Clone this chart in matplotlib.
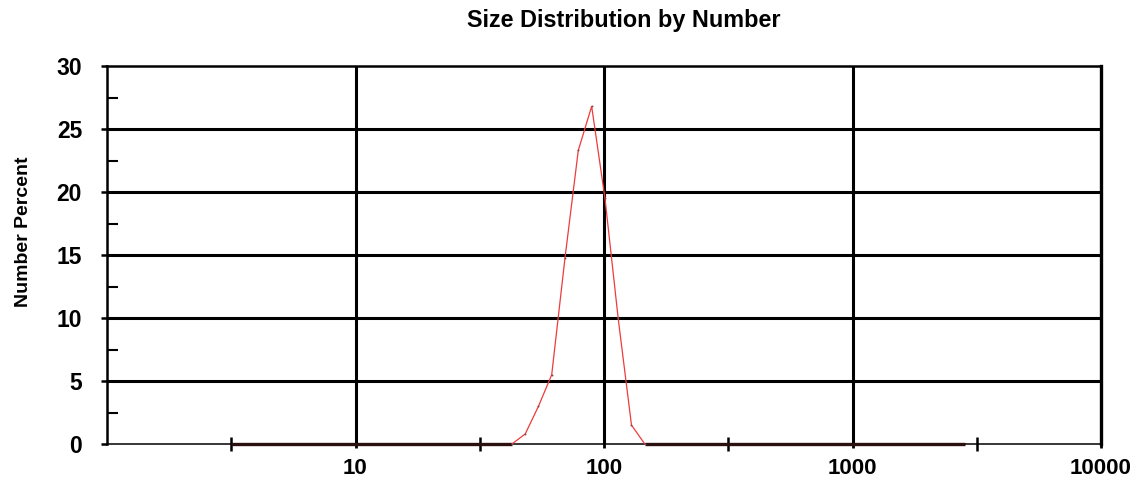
import numpy as np
import matplotlib
matplotlib.use("Agg")
import matplotlib.pyplot as plt
from matplotlib.ticker import FixedLocator, NullFormatter

# values
sizes = [3.16, 42.6, 48.2, 54.5, 61.6, 69.7, 78.8, 89.2, 100.9, 114, 129, 146, 165, 2830]
number_pct = [0, 0, 0.8, 3.0, 5.5, 14.8, 23.3, 26.8, 19.5, 10, 1.5, 0, 0, 0]
x_ticks = [10, 100, 1000, 10000]
x_labels = ["10", "100", "1000", "10000"]
y_ticks = [0, 5, 10, 15, 20, 25, 30]

plt.rcParams["font.family"] = ["Liberation Sans", "DejaVu Sans"]
plt.rcParams["font.weight"] = "bold"

fig = plt.figure(figsize=(11.37, 4.84), dpi=100)
ax = fig.add_axes([107 / 1137, 40 / 484, 994 / 1137, 378 / 484])

ax.set_xscale("log")
ax.set_xlim(1, 10000)
ax.set_ylim(0, 30)

# grid
for v in x_ticks[:-1]:
    ax.axvline(v, color="black", lw=2.2, zorder=1)
for v in y_ticks[1:-1]:
    ax.axhline(v, color="black", lw=2.2, zorder=1)

# zero stretches look dark and heavy on the baseline
ax.plot(sizes[:2], number_pct[:2], color="#2a1010", lw=2.4, zorder=3,
        solid_capstyle="butt", clip_on=False)
ax.plot(sizes[-3:], number_pct[-3:], color="#2a1010", lw=2.4, zorder=3,
        solid_capstyle="butt", clip_on=False)
ax.plot(sizes[1:-2], number_pct[1:-2], color="#ee3b3b", lw=0.9, marker="o",
        markersize=1.4, markerfacecolor="#8a4a4a", markeredgewidth=0, zorder=4)

ax.xaxis.set_major_locator(FixedLocator(x_ticks))
ax.set_xticklabels(x_labels)
ax.xaxis.set_minor_locator(FixedLocator([3.16, 31.6, 316, 3162]))
ax.xaxis.set_minor_formatter(NullFormatter())
ax.tick_params(axis="x", which="major", direction="inout", length=6, width=2, pad=7, labelsize=16)
ax.tick_params(axis="x", which="minor", direction="inout", length=10, width=1.8)

ax.yaxis.set_major_locator(FixedLocator(y_ticks))
ax.yaxis.set_minor_locator(FixedLocator([2.5, 7.5, 12.5, 17.5, 22.5, 27.5]))
ax.yaxis.set_minor_formatter(NullFormatter())
ax.tick_params(axis="y", which="major", direction="out", length=4, width=1.8, pad=14, labelsize=16.5)
ax.tick_params(axis="y", which="minor", direction="in", length=8, width=1.5)

for lab in ax.get_xticklabels() + ax.get_yticklabels():
    lab.set_fontweight("bold")

for side in ["top", "right", "left"]:
    ax.spines[side].set_linewidth(1.8)
ax.spines["right"].set_linewidth(2.4)
ax.spines["bottom"].set_linewidth(1.1)

fig.text(624 / 1137, 1 - 21 / 484, "Size Distribution by Number", ha="center", va="center",
         fontsize=16.8, fontweight="bold")
fig.text(24 / 1137, 1 - 232 / 484, "Number Percent", ha="center", va="center",
         rotation=90, fontsize=14, fontweight="bold")

fig.savefig("out.png", dpi=100, facecolor="white")
